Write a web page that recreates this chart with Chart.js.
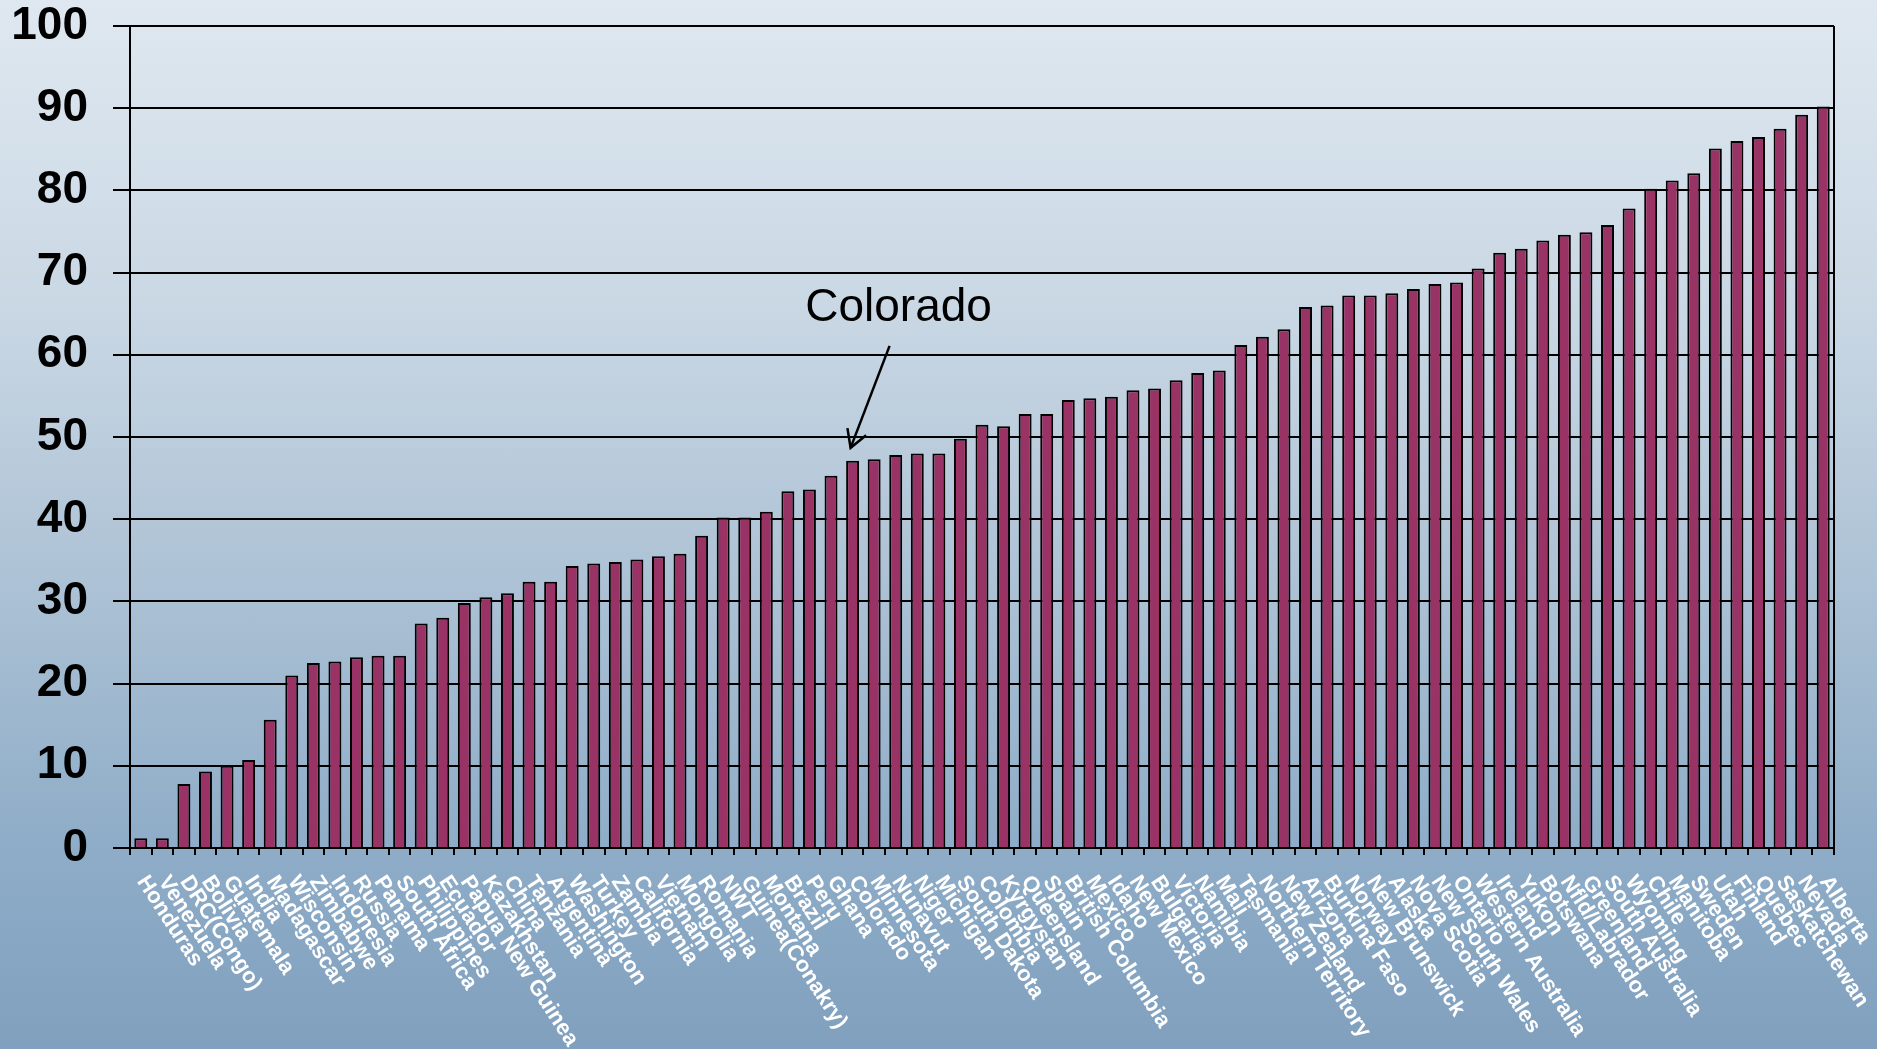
<!DOCTYPE html>
<html>
<head>
<meta charset="utf-8">
<script src="https://cdn.jsdelivr.net/npm/chart.js@4/dist/chart.umd.min.js"></script>
<style>
  html, body { margin: 0; padding: 0; }
  body {
    width: 1877px; height: 1049px; overflow: hidden;
    background: linear-gradient(180deg, #dfe8f0 0%, #c9d7e4 30%, #adc2d5 55%, #8fadc8 80%, #80a0be 100%);
  }
  #wrap { width: 1877px; height: 1049px; position: relative; }
</style>
</head>
<body>
<div id="wrap"><canvas id="chart"></canvas></div>
<script>
const regions = ['Honduras', 'Venezuela', 'DRC(Congo)', 'Bolivia', 'Guatemala', 'India', 'Madagascar',
  'Wisconsin', 'Zimbabwe', 'Indonesia', 'Russia', 'Panama', 'South Africa', 'Philippines', 'Ecuador',
  'Papua New Guinea', 'Kazakhstan', 'China', 'Tanzania', 'Argentina', 'Washington', 'Turkey', 'Zambia',
  'California', 'Vietnam', 'Mongolia', 'Romania', 'NWT', 'Guinea(Conakry)', 'Montana', 'Brazil', 'Peru',
  'Ghana', 'Colorado', 'Minnesota', 'Nunavut', 'Niger', 'Michigan', 'South Dakota', 'Colombia',
  'Kyrgystan', 'Queensland', 'Spain', 'British Columbia', 'Mexico', 'Idaho', 'New Mexico', 'Bulgaria',
  'Victoria', 'Namibia', 'Mali', 'Tasmania', 'Northern Territory', 'New Zealand', 'Arizona',
  'Burkina Faso', 'Norway', 'New Brunswick', 'Alaska', 'Nova Scotia', 'New South Wales', 'Ontario',
  'Western Australia', 'Ireland', 'Yukon', 'Botswana', 'Nfld/Labrador', 'Greenland', 'South Australia',
  'Wyoming', 'Chile', 'Manitoba', 'Sweden', 'Utah', 'Finland', 'Quebec', 'Saskatchewan', 'Nevada', 'Alberta'];

const scores = [1.2, 1.2, 7.8, 9.3, 10.0, 10.7, 15.6, 21.0, 22.5, 22.7, 23.2, 23.4, 23.4, 27.3, 28.0,
  29.8, 30.5, 31.0, 32.4, 32.4, 34.3, 34.6, 34.8, 35.1, 35.5, 35.8, 38.0, 40.2, 40.2, 40.9, 43.4, 43.6,
  45.3, 47.1, 47.3, 47.8, 48.0, 48.0, 49.8, 51.5, 51.3, 52.8, 52.8, 54.5, 54.7, 54.9, 55.7, 55.9, 56.9,
  57.8, 58.1, 61.2, 62.2, 63.1, 65.8, 66.0, 67.2, 67.2, 67.5, 68.0, 68.6, 68.8, 70.5, 72.4, 72.9, 73.9,
  74.6, 74.9, 75.8, 77.8, 80.2, 81.2, 82.1, 85.1, 86.0, 86.5, 87.5, 89.2, 90.2];

const yTicks = [0, 10, 20, 30, 40, 50, 60, 70, 80, 90, 100];
const highlight = 'Colorado';

// rotated region names under the axis, drawn at the x scale's pixel positions
const slantedLabels = {
  id: 'slantedLabels',
  afterDraw(chart) {
    const { ctx, scales: { x }, chartArea } = chart;
    ctx.save();
    ctx.fillStyle = '#ffffff';
    ctx.font = 'bold 22px "Liberation Sans", Arial, sans-serif';
    ctx.textAlign = 'left';
    ctx.textBaseline = 'top';
    regions.forEach((name, i) => {
      ctx.save();
      ctx.translate(x.getPixelForValue(i) + 10, chartArea.bottom + 24);
      ctx.rotate(57 * Math.PI / 180);
      ctx.fillText(name, 0, 0);
      ctx.restore();
    });
    ctx.restore();
  }
};

// right border of the plot box + the Colorado callout
const frameAndCallout = {
  id: 'frameAndCallout',
  afterDatasetsDraw(chart) {
    const { ctx, scales: { x, y }, chartArea } = chart;
    ctx.save();
    ctx.strokeStyle = '#000';
    ctx.lineWidth = 2;
    ctx.beginPath();
    ctx.moveTo(chartArea.right, chartArea.top);
    ctx.lineTo(chartArea.right, chartArea.bottom);
    ctx.stroke();

    const idx = regions.indexOf(highlight);
    const bx = x.getPixelForValue(idx);
    const by = y.getPixelForValue(scores[idx]);
    const tipX = bx - 2, tipY = by - 13;
    const tailX = bx + 37, tailY = by - 115;
    ctx.lineWidth = 2.5;
    ctx.beginPath();
    ctx.moveTo(tailX, tailY);
    ctx.lineTo(tipX, tipY);
    ctx.stroke();
    const ang = Math.atan2(tailY - tipY, tailX - tipX);
    const arm = 20, spread = 30 * Math.PI / 180;
    ctx.beginPath();
    ctx.moveTo(tipX + arm * Math.cos(ang - spread), tipY + arm * Math.sin(ang - spread));
    ctx.lineTo(tipX, tipY);
    ctx.lineTo(tipX + arm * Math.cos(ang + spread), tipY + arm * Math.sin(ang + spread));
    ctx.stroke();

    ctx.fillStyle = '#000';
    ctx.font = '46px "Liberation Sans", Arial, sans-serif';
    ctx.textAlign = 'center';
    ctx.textBaseline = 'middle';
    ctx.fillText(highlight, bx + 46, by - 153);
    ctx.restore();
  }
};

const ctx = document.getElementById('chart');

new Chart(ctx, {
  type: 'bar',
  data: {
    labels: regions,
    datasets: [{
      data: scores,
      backgroundColor: '#993366',
      borderColor: '#000000',
      borderWidth: 2,
      barPercentage: 0.6,
      categoryPercentage: 1
    }]
  },
  options: {
    responsive: true,
    maintainAspectRatio: false,
    animation: false,
    layout: { padding: { top: 0, right: 43, left: 0, bottom: 0 } },
    plugins: {
      legend: { display: false },
      tooltip: { enabled: false }
    },
    scales: {
      x: {
        offset: true,
        ticks: { display: false },
        grid: {
          offset: true,
          drawOnChartArea: false,
          drawTicks: true,
          tickLength: 7,
          color: '#000',
          lineWidth: 2
        },
        border: { color: '#000', width: 2 },
        afterFit(scale) { scale.height = 201; }
      },
      y: {
        min: 0,
        max: 100,
        afterBuildTicks(scale) { scale.ticks = yTicks.map(v => ({ value: v })); },
        ticks: {
          color: '#000',
          padding: 25,
          font: { size: 46, weight: 'bold', family: '"Liberation Sans", Arial, sans-serif' }
        },
        grid: { color: '#000', lineWidth: 2, tickLength: 17 },
        border: { color: '#000', width: 2 },
        afterFit(scale) {
          scale.width = 130;
          scale.paddingTop = 26;
          scale.paddingBottom = 0;
        }
      }
    }
  },
  plugins: [slantedLabels, frameAndCallout]
});
</script>
</body>
</html>
